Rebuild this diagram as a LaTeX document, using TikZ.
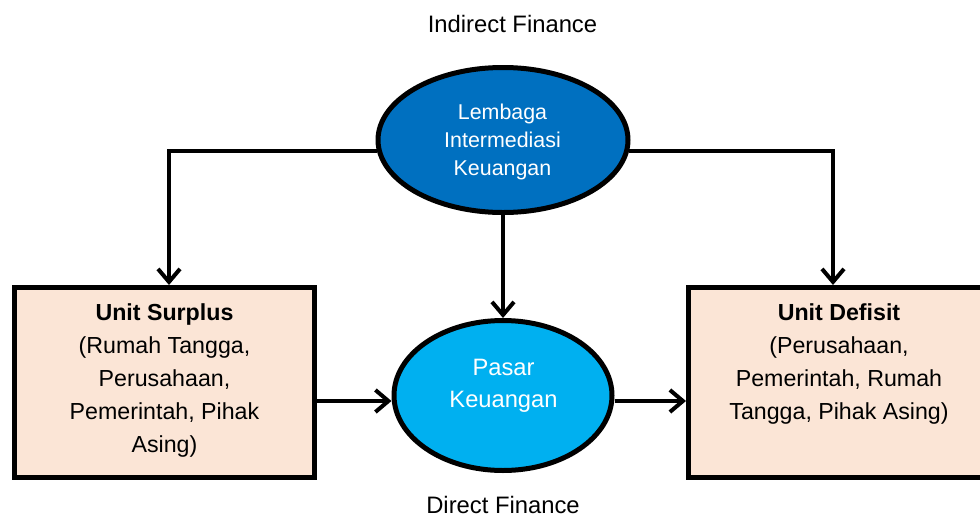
\documentclass[tikz,border=0pt]{standalone}
\usepackage{fontspec}
\setmainfont{Liberation Sans}
\usetikzlibrary{shapes.geometric,arrows.meta,calc}
\definecolor{darkblue}{HTML}{0070C0}
\definecolor{lightblue}{HTML}{00B0F0}
\definecolor{peach}{HTML}{FBE5D6}
\begin{document}
\begin{tikzpicture}[x=1pt,y=-1pt,
  unitbox/.style={draw=black, line width=5pt, fill=peach, inner sep=0pt, rectangle},
  oval/.style={ellipse, draw=black, line width=5pt, inner sep=0pt},
  ovaltext/.style={align=center, text=white, inner sep=0pt},
  conn/.style={line width=4pt, -{Straight Barb[length=13pt,width=22pt]}},
  boxtext/.style={align=center, font=\fontsize{23.2}{33}\selectfont, inner sep=0pt, anchor=north},
  title/.style={font=\fontsize{23.8}{28}\selectfont, inner sep=0pt}]
\useasboundingbox (0,0) rectangle (980,517);
% boxes
\node[unitbox, minimum width=300pt, minimum height=190pt] (surplus) at (164.5,382.5) {};
\node[unitbox, minimum width=301pt, minimum height=190pt] (defisit) at (839,382.5) {};
\node[boxtext] (surplustext) at (164.5,303) {\textbf{Unit Surplus}\\(Rumah Tangga,\\Perusahaan,\\Pemerintah, Pihak\\Asing)};
\node[boxtext] (defisittext) at (839,303) {\textbf{Unit Defisit}\\(Perusahaan,\\Pemerintah, Rumah\\Tangga, Pihak Asing)};
% ellipses
\node[oval, fill=darkblue, minimum width=250pt, minimum height=145pt] (lembaga) at (503,140) {};
\node[ovaltext, font=\fontsize{21.4}{28}\selectfont] (lembagatext) at (502.5,142) {Lembaga\\Intermediasi\\Keuangan};
\node[oval, fill=lightblue, minimum width=218pt, minimum height=150pt] (pasar) at (503,395.5) {};
\node[ovaltext, font=\fontsize{23.7}{32}\selectfont] (pasartext) at (503.5,386) {Pasar\\Keuangan};
% titles
\node[title] (indirect) at (512.5,24) {Indirect Finance};
\node[title] (direct) at (503,505) {Direct Finance};
% connectors
\coordinate (ay) at (0,401);
\draw[conn] (lembaga.185) -| ($(surplus.north)+(4.5,0)$);
\draw[conn] (lembaga.355) -| ($(defisit.north)+(-6,0)$);
\draw[conn] (lembaga.south) -- (lembaga.south |- pasar.north);
\draw[conn] (surplus.east |- ay) -- (pasar.west |- ay);
\draw[conn] (pasar.east |- ay) -- (defisit.west |- ay);
\end{tikzpicture}
\end{document}
